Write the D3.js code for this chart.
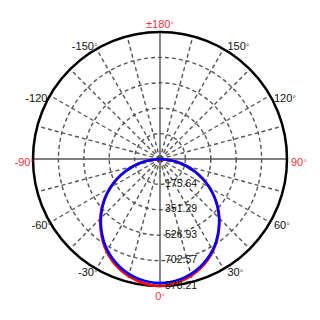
<!DOCTYPE html>
<html>
<head>
<meta charset="utf-8">
<script src="https://cdn.jsdelivr.net/npm/d3@7"></script>
<style>
body { margin: 0; background: #fff; }
svg { display: block; }
</style>
</head>
<body>
<svg width="320" height="320"></svg>
<script>
// polar intensity data, angle in degrees (0 = down)
var angles = [-90, -80, -70, -60, -50, -40, -30, -20, -10, 0, 10, 20, 30, 40, 50, 60, 70, 80, 90]
var redVals = [0, 124, 262, 398, 526, 638, 738, 812, 858, 878.21, 856, 808, 734, 634, 522, 395, 260, 123, 0]
var blueVals = [0, 122, 259, 395, 520, 632, 728, 798, 842, 858, 842, 798, 728, 632, 520, 395, 259, 122, 0]
var ringLabels = ["175.64", "351.29", "526.93", "702.57", "878.21"]
var ringValues = [175.64, 351.29, 526.93, 702.57, 878.21]
var angleTicks = [180, -150, 150, -120, 120, -90, 90, -60, 60, -30, 30, 0]
var angleText = ["±180", "-150", "150", "-120", "120", "-90", "90", "-60", "60", "-30", "30", "0"]
var spokes = d3.range(0, 360, 15)

var cx = 160, cy = 159, R = 127
var rMax = 878.21

var svg = d3.select("svg")
var g = svg.append("g").attr("transform", "translate(" + cx + "," + cy + ")")

var rscale = d3.scaleLinear().domain([0, rMax]).range([0, R])
var rad = function(d) { return d * Math.PI / 180 }

// spokes
g.selectAll("line.spoke")
    .data(spokes)
    .enter()
    .append("line")
    .attr("x1", 0).attr("y1", 0)
    .attr("x2", function(d) { return R * Math.sin(rad(d)) })
    .attr("y2", function(d) { return R * Math.cos(rad(d)) })
    .attr("stroke", "#555")
    .attr("stroke-width", 1.4)
    .attr("stroke-dasharray", function(d) { return d % 90 == 0 ? null : "4,3" })

// dashed rings
g.selectAll("circle.ring")
    .data(ringValues.slice(0, 4))
    .enter()
    .append("circle")
    .attr("r", function(d) { return rscale(d) })
    .attr("fill", "none")
    .attr("stroke", "#555")
    .attr("stroke-width", 1.4)
    .attr("stroke-dasharray", "4,3")

// outer circle
g.append("circle")
    .attr("r", R)
    .attr("fill", "none")
    .attr("stroke", "#000")
    .attr("stroke-width", 2.5)

// curves
var line = d3.lineRadial()
    .angle(function(d) { return Math.PI - rad(d[0]) })
    .radius(function(d) { return rscale(d[1]) })
    .curve(d3.curveCatmullRom)

g.append("path")
    .attr("d", line(angles.map(function(a, i) { return [a, redVals[i]] })))
    .attr("fill", "none")
    .attr("stroke", "#ff0000")
    .attr("stroke-width", 2.6)

g.append("path")
    .attr("d", line(angles.map(function(a, i) { return [a, blueVals[i]] })))
    .attr("fill", "none")
    .attr("stroke", "#0000ff")
    .attr("stroke-width", 2.6)

// ring labels
g.selectAll("text.rl")
    .data(ringValues)
    .enter()
    .append("text")
    .attr("x", 5)
    .attr("y", function(d) { return rscale(d) - 1 })
    .attr("dy", "0.35em")
    .attr("font-family", "Liberation Sans, Arial, sans-serif")
    .attr("font-size", 10.5)
    .attr("fill", "#111")
    .text(function(d, i) { return ringLabels[i] })

// angle labels
var lab = g.selectAll("text.al")
    .data(angleTicks)
    .enter()
    .append("text")
    .attr("font-family", "Liberation Sans, Arial, sans-serif")
    .attr("font-size", 11)
    .attr("fill", function(d) { return d % 90 == 0 ? "#f03040" : "#111" })
    .attr("text-anchor", function(d) {
        var s = Math.sin(rad(d))
        if (Math.abs(s) < 0.01) return "middle"
        return s < 0 ? "end" : "start"
    })
    .attr("x", function(d) {
        var s = Math.sin(rad(d))
        if (Math.abs(s) < 0.01) return 0
        return R * s + (s < 0 ? 1 : 4)
    })
    .attr("y", function(d) {
        var c = Math.cos(rad(d))
        if (c < -0.99) return -R - 8
        if (c > 0.99) return R + 10
        return R * c + (c < -0.7 ? -3 : 3)
    })
    .attr("dy", "0.35em")

lab.append("tspan").text(function(d, i) { return angleText[i] })
lab.append("tspan")
    .attr("font-size", 9)
    .attr("fill-opacity", 0.8)
    .text("°")
</script>
</body>
</html>
